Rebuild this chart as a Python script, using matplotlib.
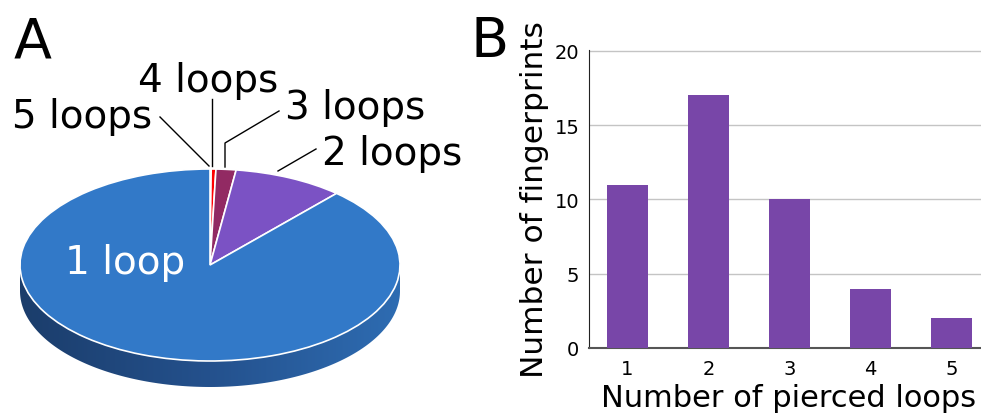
import numpy as np
import matplotlib
matplotlib.use('Agg')
import matplotlib.pyplot as plt
from matplotlib.colors import LinearSegmentedColormap
from matplotlib.patches import Polygon
from matplotlib.transforms import Affine2D

# pie: share of loops, clockwise from 12 o'clock
pie_labels = ['5 loops', '4 loops', '3 loops', '2 loops', '1 loop']
pie_values = [0.1, 0.4, 1.7, 9.4, 88.4]
pie_colors = ['#3279c8', '#ff0000', '#922a63', '#7b52c4', '#3279c8']

# bars
loops = [1, 2, 3, 4, 5]
fingerprints = [11, 17, 10, 4, 2]

fig = plt.figure(figsize=(9.81, 4.14), dpi=100)

# ---- A: pseudo 3d pie
ax1 = fig.add_axes([0, 0, 490.5 / 981, 1])
scale = 190.0            # px per unit radius
cx, cy = 210, 266        # pie centre in px (from top left)
k = 96 / 190.0           # vertical squash
depth = 26 / scale


def px(x, y):
    return (x - cx) / scale, (cy - y) / scale


ax1.axis('off')

# side wall with gradient
t = np.linspace(np.pi, 2 * np.pi, 200)
top = np.column_stack([np.cos(t), k * np.sin(t)])
bot = np.column_stack([np.cos(t[::-1]), k * np.sin(t[::-1]) - depth])
side = Polygon(np.vstack([top, bot]), closed=True, facecolor='none', edgecolor='none')
ax1.add_patch(side)
cmap = LinearSegmentedColormap.from_list('side', ['#1b3d6b', '#24518d', '#2e6cb2'])
grad = np.linspace(0, 1, 256).reshape(1, -1)
im = ax1.imshow(grad, cmap=cmap, extent=[-1, 1, -k - depth, 0], aspect='auto', zorder=1)
im.set_clip_path(side)

wedges, _ = ax1.pie(pie_values, colors=pie_colors, startangle=90, counterclock=False,
                    wedgeprops=dict(edgecolor='white', linewidth=1.2))
squash = Affine2D().scale(1, k) + ax1.transData
for w in wedges:
    w.set_transform(squash)
    w.set_zorder(2)
ax1.set_aspect('auto')
ax1.set_xlim(-cx / scale, (490.5 - cx) / scale)
ax1.set_ylim(-(414 - cy) / scale, cy / scale)

fs = 28
lw = 1.0
# leader lines
ax1.plot(*zip(px(160, 118), px(209, 167)), color='black', lw=lw)
ax1.plot(*zip(px(212, 100), px(212, 167)), color='black', lw=lw)
ax1.plot(*zip(px(279, 112), px(225, 144), px(225, 168)), color='black', lw=lw)
ax1.plot(*zip(px(316, 150), px(278, 172)), color='black', lw=lw)

ax1.text(*px(82, 117), pie_labels[0], fontsize=fs, ha='center', va='center')
ax1.text(*px(208, 81), pie_labels[1], fontsize=fs, ha='center', va='center')
ax1.text(*px(355, 108), pie_labels[2], fontsize=fs, ha='center', va='center')
ax1.text(*px(392, 154), pie_labels[3], fontsize=fs, ha='center', va='center')
ax1.text(*px(125, 263), pie_labels[4], fontsize=fs, ha='center', va='center', color='white', zorder=5)

fig.text(14 / 981, 1 - 42 / 414, 'A', fontsize=40, ha='left', va='center')
fig.text(470 / 981, 1 - 42 / 414, 'B', fontsize=40, ha='left', va='center')

# ---- B: bars
ax2 = fig.add_axes([589 / 981, 65 / 414, 401 / 981, 298 / 414])
ax2.bar(loops, fingerprints, width=0.5, color='#7846a8', zorder=3)
ax2.set_xlim(0.525, 5.475)
ax2.set_ylim(0, 20.05)
ax2.set_yticks([0, 5, 10, 15, 20])
ax2.set_xticks(loops)
ax2.yaxis.grid(True, color='#c4c4c4', lw=1)
ax2.set_axisbelow(True)
for s in ['top', 'right']:
    ax2.spines[s].set_visible(False)
ax2.spines['left'].set_color('#222222')
ax2.spines['bottom'].set_color('#555555')
ax2.spines['bottom'].set_linewidth(1.5)
ax2.tick_params(length=0, labelsize=14)
ax2.tick_params(axis='y', pad=7)
ax2.tick_params(axis='x', pad=8)
ax2.set_ylabel('Number of fingerprints', fontsize=22.5, labelpad=4)
fig.text(789 / 981, 1 - 399 / 414, 'Number of pierced loops', fontsize=22, ha='center', va='center')

fig.savefig('out.png', dpi=100)
